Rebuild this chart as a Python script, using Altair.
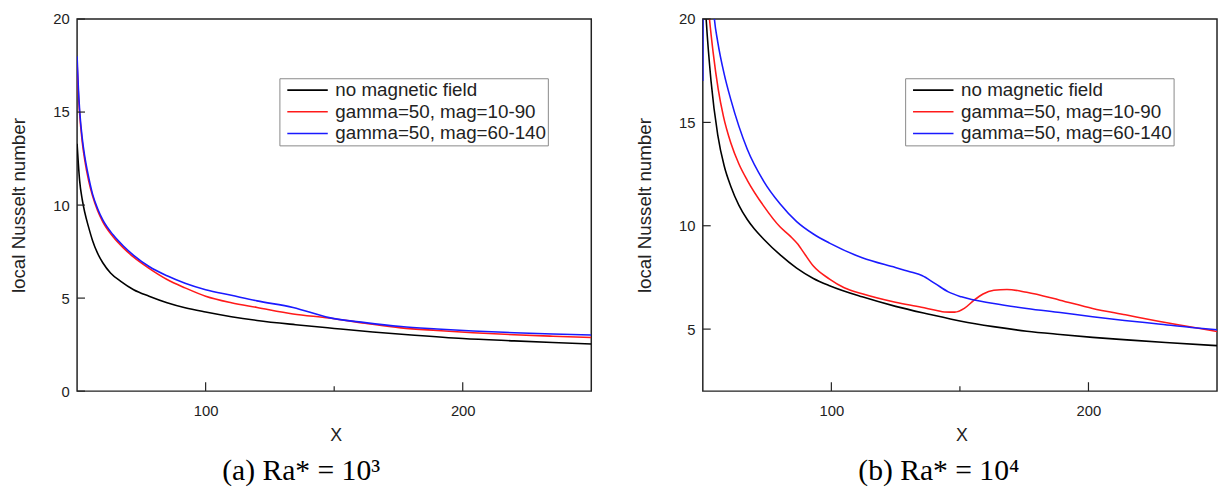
import altair as alt
import pandas as pd

SERIES = ["no magnetic field", "gamma=50, mag=10-90", "gamma=50, mag=60-140"]
COLORS = ["#000000", "#ff1a1a", "#1a1aff"]

# ---------------- panel (a)  Ra* = 10^3 ----------------
a_black_x = [50, 50.5, 51, 52, 53, 54.5, 56, 58, 60, 63, 67, 72, 78, 85, 92, 100, 110, 120, 135, 150, 165, 180, 200, 220, 235, 250]
a_black_y = [13.3, 12.2, 11.3, 10.3, 9.6, 8.8, 8.1, 7.4, 6.9, 6.35, 5.9, 5.45, 5.1, 4.75, 4.48, 4.25, 4.0, 3.8, 3.57, 3.37, 3.18, 3.02, 2.83, 2.7, 2.61, 2.53]

a_red_x = [50, 50.5, 51, 52, 53, 54.5, 56, 58, 60, 64, 68, 72, 78, 85, 92, 100, 110, 120, 134, 148, 162, 176, 190, 204, 220, 235, 250]
a_red_y = [17.6, 16.0, 14.9, 13.4, 12.4, 11.3, 10.5, 9.7, 9.1, 8.3, 7.7, 7.2, 6.6, 6.0, 5.55, 5.1, 4.75, 4.5, 4.15, 3.93, 3.65, 3.4, 3.26, 3.14, 3.03, 2.95, 2.88]

a_blue_x = [50, 50.5, 51, 52, 53, 54.5, 56, 58, 60, 64, 68, 72, 78, 85, 92, 100, 110, 120, 134, 148, 162, 176, 190, 204, 220, 235, 250]
a_blue_y = [18.0, 16.3, 15.1, 13.6, 12.6, 11.5, 10.6, 9.8, 9.2, 8.4, 7.8, 7.3, 6.7, 6.2, 5.8, 5.45, 5.15, 4.85, 4.5, 3.95, 3.68, 3.47, 3.34, 3.23, 3.14, 3.07, 3.02]

# ---------------- panel (b)  Ra* = 10^4 ----------------
b_black_x = [50, 51.3, 53.2, 55.8, 58.3, 60.9, 64, 67.3, 70, 73.7, 80, 86.5, 93, 99.3, 112, 125, 138, 150.5, 163, 176, 189, 201.6, 215, 230, 250]
b_black_y = [23.0, 20.0, 17.0, 14.4, 12.9, 11.9, 11.0, 10.3, 9.85, 9.35, 8.6, 7.95, 7.45, 7.1, 6.56, 6.1, 5.72, 5.38, 5.12, 4.9, 4.74, 4.6, 4.48, 4.35, 4.2]

b_red_x = [50, 51, 52.6, 54, 56, 58, 60.9, 64, 67.3, 73.7, 80, 84, 87, 89, 93, 99.3, 105, 112, 124.9, 135, 141, 144, 148, 151.7, 155.5, 159, 163.2, 168.3, 176, 188.9, 201.6, 214.4, 227.2, 240, 250]
b_red_y = [25.0, 22.5, 20.0, 18.4, 16.6, 15.3, 14.0, 13.0, 12.2, 10.95, 9.95, 9.5, 9.1, 8.75, 8.05, 7.42, 7.0, 6.71, 6.3, 6.06, 5.9, 5.83, 5.82, 6.0, 6.4, 6.7, 6.88, 6.92, 6.78, 6.4, 6.0, 5.69, 5.38, 5.1, 4.88]

b_blue_x = [50, 50.4, 52, 53.5, 54.5, 55.8, 58.3, 60.9, 67.3, 73.7, 80.1, 86.5, 93, 99.3, 112, 124.9, 131.3, 135.2, 140.4, 145.5, 150.6, 163.2, 176, 189, 201.6, 214, 227.2, 240, 250]
b_blue_y = [17.0, 30.0, 25.0, 21.6, 20.0, 18.9, 17.35, 16.1, 13.7, 12.15, 11.05, 10.2, 9.6, 9.16, 8.45, 7.98, 7.75, 7.59, 7.2, 6.8, 6.56, 6.24, 6.0, 5.8, 5.6, 5.42, 5.25, 5.08, 4.97]

# axis tick values
x_major = [100, 200]
x_minor = [150]
a_y_ticks = [0, 5, 10, 15, 20]
b_y_ticks = [5, 10, 15, 20]

captions = ["(a) Ra* = 10\u00b3", "(b) Ra* = 10\u2074"]

W, H = 521, 377
FONT = "Liberation Sans"
TXT = "#222222"


def make_df(parts):
    rows = []
    for name, xs, ys in parts:
        for x, y in zip(xs, ys):
            rows.append({"x": x, "y": y, "series": name})
    return pd.DataFrame(rows)


def panel(df, ydom, yticks, caption, dx):
    xscale = alt.Scale(domain=[50, 250], nice=False, zero=False)
    yscale = alt.Scale(domain=ydom, nice=False, zero=False)
    xaxis = alt.Axis(values=x_major, title="X", ticks=False, domain=False, grid=False,
                     labelFontSize=15, labelPadding=12.5, labelColor=TXT, labelFont=FONT,
                     titleFont=FONT, titleFontSize=18, titleFontWeight="normal", titleColor=TXT,
                     titleX=262, titleY=50, titleBaseline="alphabetic")
    yaxis = alt.Axis(values=yticks, title="local Nusselt number", ticks=False, domain=False, grid=False,
                     labelFontSize=15, labelPadding=8, labelColor=TXT, labelFont=FONT,
                     titleFont=FONT, titleFontSize=19, titleFontWeight="normal", titleColor=TXT,
                     titleX=-53, titleY=H / 2, titleAngle=270, titleBaseline="alphabetic")
    lines = alt.Chart(df).mark_line(strokeWidth=1.6, clip=True, interpolate="monotone").encode(
        x=alt.X("x:Q", scale=xscale, axis=xaxis),
        y=alt.Y("y:Q", scale=yscale, axis=yaxis),
        color=alt.Color("series:N", scale=alt.Scale(domain=SERIES, range=COLORS), sort=SERIES,
                        legend=alt.Legend(orient="none", legendX=205, legendY=60, title=None,
                                          symbolType="stroke", symbolSize=1681, symbolStrokeWidth=1.6,
                                          labelFontSize=19, labelFont=FONT, labelColor=TXT, labelLimit=400,
                                          strokeColor="#888888", fillColor="white", padding=1,
                                          rowPadding=0, clipHeight=22, symbolOffset=6, labelOffset=6.7)),
    )
    xt_major = alt.Chart(pd.DataFrame({"x": x_major})).mark_rule(color=TXT, strokeWidth=1.2).encode(
        x=alt.X("x:Q", scale=xscale, axis=xaxis), y=alt.value(H), y2=alt.value(H - 9))
    xt_minor = alt.Chart(pd.DataFrame({"x": x_minor})).mark_rule(color=TXT, strokeWidth=1.2).encode(
        x=alt.X("x:Q", scale=xscale, axis=xaxis), y=alt.value(H), y2=alt.value(H - 5))
    yt = alt.Chart(pd.DataFrame({"y": yticks})).mark_rule(color=TXT, strokeWidth=1.2).encode(
        y=alt.Y("y:Q", scale=yscale, axis=yaxis), x=alt.value(0), x2=alt.value(8))
    return alt.layer(lines, xt_major, xt_minor, yt).properties(
        width=W, height=H,
        title=alt.TitleParams(caption, orient="bottom", font="Liberation Serif", fontSize=30,
                              fontWeight="normal", color="black", anchor="middle", frame="group",
                              dx=dx, offset=12),
    )


df_a = make_df([(SERIES[0], a_black_x, a_black_y), (SERIES[1], a_red_x, a_red_y), (SERIES[2], a_blue_x, a_blue_y)])
df_b = make_df([(SERIES[0], b_black_x, b_black_y), (SERIES[1], b_red_x, b_red_y), (SERIES[2], b_blue_x, b_blue_y)])

pa = panel(df_a, [0, 20], a_y_ticks, captions[0], -33.5)
pb = panel(df_b, [2, 20], b_y_ticks, captions[1], -21.4)

chart = alt.hconcat(pa, pb, spacing=43).resolve_legend(color="independent").properties(
    padding={"left": 1, "top": 0, "right": 0, "bottom": 0}, background="white"
).configure_view(stroke="#222222", strokeWidth=1.5)

chart.save("out.html", embed_options={"renderer": "svg", "actions": False})
